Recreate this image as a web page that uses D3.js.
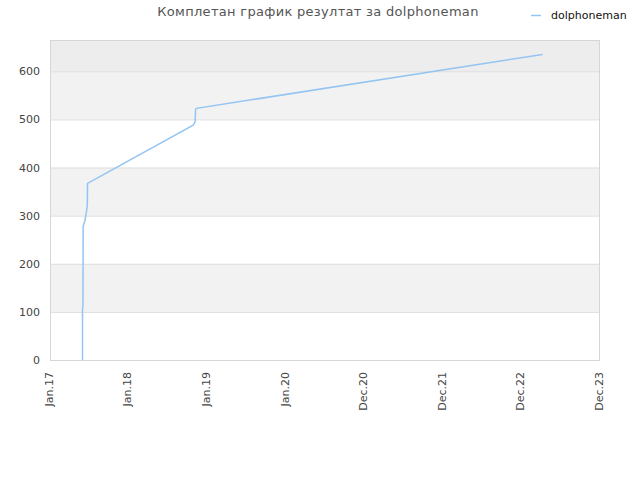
<!DOCTYPE html>
<html><head><meta charset="utf-8">
<script src="https://cdn.jsdelivr.net/npm/d3@7"></script>
<style>
html,body{margin:0;padding:0;background:#fff;}
svg{display:block;font-family:"DejaVu Sans",sans-serif;}
</style></head>
<body>
<svg id="c" width="640" height="480"></svg>
<script>
const seriesName = "dolphoneman";
const titleText = "Комплетан график резултат за dolphoneman";
const dates = ["2017-05-30","2017-05-30","2017-06-01","2017-06-02","2017-06-10","2017-06-16","2017-06-21","2017-06-22","2018-10-19","2018-10-28","2018-10-30","2018-11-03","2023-03-08"];
const values = [0,107,112,278,290,305,322,367,488,495,521,523,635];
const tickDates = ["2017-01-01","2017-12-27","2018-12-22","2019-12-17","2020-12-11","2021-12-06","2022-12-01","2023-11-26"];
const tickLabels = ["Jan.17","Jan.18","Jan.19","Jan.20","Dec.20","Dec.21","Dec.22","Dec.23"];
const yTicks = [0,100,200,300,400,500,600];
const yMax = 665;

const parse = d3.utcParse("%Y-%m-%d");
const svg = d3.select("#c");
const L = 50, R = 600, T = 40, B = 360;
const x = d3.scaleUtc().domain([parse(tickDates[0]), parse(tickDates[tickDates.length-1])]).range([L, R]);
const y = d3.scaleLinear().domain([0, yMax]).range([B, T]);

// bands
const bandEdges = yTicks.concat([yMax]);
for (let i = 0; i < bandEdges.length - 1; i++) {
  const lo = bandEdges[i], hi = bandEdges[i+1];
  let fill = (i % 2 === 1) ? "#f2f2f2" : "#ffffff";
  if (lo === yTicks[yTicks.length-1]) fill = "#ededed";
  svg.append("rect").attr("x", L).attr("width", R - L)
    .attr("y", y(hi)).attr("height", y(lo) - y(hi)).attr("fill", fill);
}
// grid lines
svg.append("g").selectAll("line").data(yTicks.slice(1)).join("line")
  .attr("x1", L).attr("x2", R).attr("y1", d => y(d) + 0.5).attr("y2", d => y(d) + 0.5)
  .attr("stroke", "#dddddd").attr("stroke-width", 1);
// border
svg.append("rect").attr("x", L + 0.5).attr("y", T + 0.5).attr("width", R - L - 1).attr("height", B - T)
  .attr("fill", "none").attr("stroke", "#d6d6d6");

// y axis
const yAxis = d3.axisLeft(y).tickValues(yTicks).tickSize(0).tickPadding(10).tickFormat(d3.format("d"));
const gy = svg.append("g").attr("transform", `translate(${L},0)`).call(yAxis);
gy.select(".domain").remove();
gy.selectAll("text").attr("fill", "#444").attr("font-size", 11).attr("font-family", "DejaVu Sans, sans-serif");

// x axis
const xAxis = d3.axisBottom(x).tickValues(tickDates.map(parse)).tickSize(0).tickPadding(0)
  .tickFormat((d, i) => tickLabels[i]);
const gx = svg.append("g").attr("transform", `translate(0,${B})`).call(xAxis);
gx.select(".domain").remove();
gx.selectAll("text").attr("fill", "#444").attr("font-size", 11).attr("font-family", "DejaVu Sans, sans-serif")
  .attr("text-anchor", "end").attr("dy", "0.35em")
  .attr("transform", "translate(-1.5,12) rotate(-90)").attr("x", 0).attr("y", 0);

// line
const pts = dates.map((d, i) => [parse(d), values[i]]);
svg.append("path").datum(pts)
  .attr("fill", "none").attr("stroke", "#94c4f2").attr("stroke-width", 1.5)
  .attr("d", d3.line().x(d => x(d[0])).y(d => y(d[1])));

// title
svg.append("text").attr("x", 318).attr("y", 16).attr("text-anchor", "middle")
  .attr("font-size", 13).attr("fill", "#555").attr("letter-spacing", "0.3px").text(titleText);

// legend
svg.append("line").attr("x1", 531).attr("x2", 541).attr("y1", 15.5).attr("y2", 15.5)
  .attr("stroke", "#94c4f2").attr("stroke-width", 1.5);
svg.append("text").attr("x", 551).attr("y", 19).attr("font-size", 11).attr("fill", "#111").text(seriesName);
</script>
</body></html>
